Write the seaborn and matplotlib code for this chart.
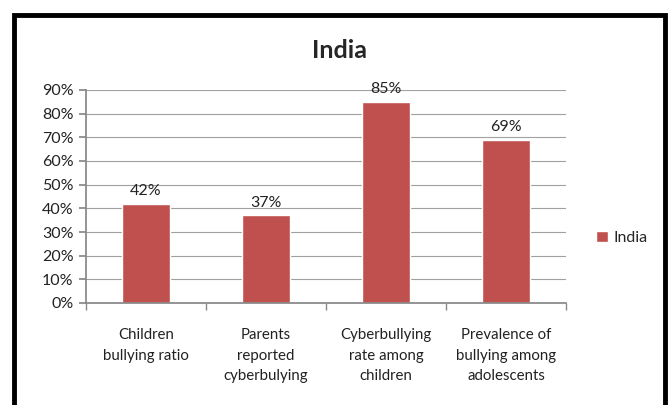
import matplotlib
matplotlib.use("Agg")
import matplotlib.pyplot as plt
import seaborn as sns
import pandas as pd
from matplotlib.patches import Rectangle, Patch
from matplotlib.ticker import PercentFormatter

categories = ["Children\nbullying ratio", "Parents\nreported\ncyberbulying",
              "Cyberbullying\nrate among\nchildren", "Prevalence of\nbullying among\nadolescents"]
values = [0.42, 0.37, 0.85, 0.69]
labels = ["42%", "37%", "85%", "69%"]
series_name = "India"

sns.set_theme(style="white")
plt.rcParams['font.family'] = ['Lato', 'DejaVu Sans']

df = pd.DataFrame({"cat": categories, "val": values})

fig = plt.figure(figsize=(6.69, 4.05), dpi=100)
ax = fig.add_axes([86/669, 1-303/405, 480/669, 213/405])
color = "#C0504D"
sns.barplot(data=df, x="cat", y="val", color=color, width=0.4, ax=ax, saturation=1)

ax.set_ylim(0, 0.9)
ax.set_xlim(-0.5, len(categories) - 0.5)
ax.set_yticks([i/10 for i in range(10)])
ax.yaxis.set_major_formatter(PercentFormatter(1.0, decimals=0))
ax.set_xlabel("")
ax.set_ylabel("")
ax.grid(axis="y", color="#a0a0a0", linewidth=0.8)
ax.set_axisbelow(True)
for s in ["top", "right"]:
    ax.spines[s].set_visible(False)
ax.spines["left"].set_color("#888888")
ax.spines["bottom"].set_color("#888888")
ax.tick_params(axis="y", left=True, length=5, color="#888888", labelsize=11.5, pad=4,
               labelcolor="#222222")
ax.set_xticks(range(len(categories)))
ax.set_xticklabels(categories, fontsize=10.8, linespacing=1.6, color="#222222")
ax.tick_params(axis="x", bottom=False, pad=12)
# minor ticks at category boundaries
ax.set_xticks([i - 0.5 for i in range(len(categories) + 1)], minor=True)
ax.tick_params(axis="x", which="minor", bottom=True, length=5, color="#888888")

for i, (v, l) in enumerate(zip(values, labels)):
    ax.text(i, v + 0.025, l, ha="center", va="bottom", fontsize=11.5, color="#222222")

fig.text(340/669, 1-50/405, "India", ha="center", va="center", fontsize=18, fontweight="bold")

ax.legend(handles=[Patch(facecolor=color, label=series_name)], loc="center left",
          bbox_to_anchor=(582/669, 1-238/405), bbox_transform=fig.transFigure,
          frameon=False, fontsize=11.5, handlelength=0.7, handleheight=0.7, handletextpad=0.4)

fig.patches.append(Rectangle((14/669, -0.05), 651/669, 1.05 - 15/405, transform=fig.transFigure,
                             fill=False, edgecolor="black", linewidth=3.5, clip_on=False))

fig.savefig("out.png", dpi=100)
